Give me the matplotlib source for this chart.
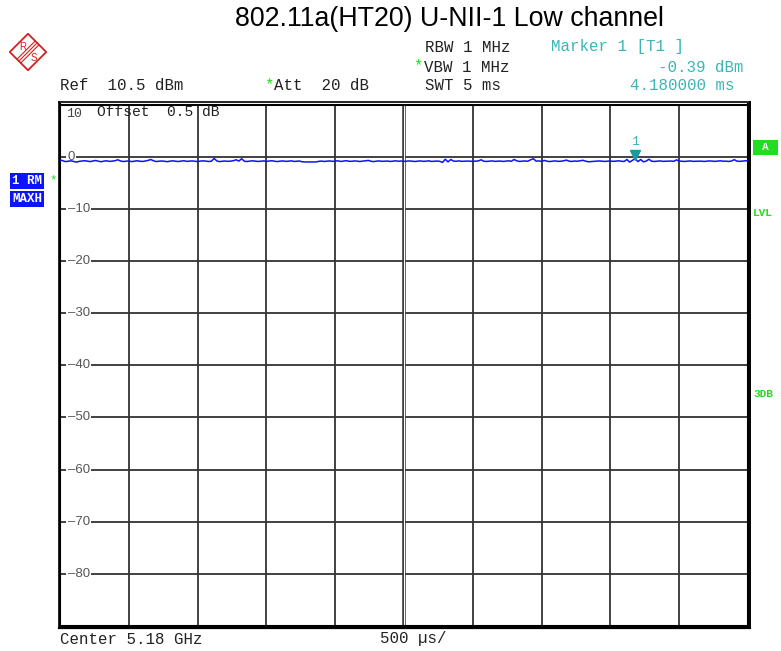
import numpy as np
import matplotlib.pyplot as plt
from matplotlib.patches import Polygon, Rectangle
from matplotlib.lines import Line2D
from matplotlib.transforms import offset_copy

# 扫描参数 (零跨度, 5 ms)
sweep_ms = 5.0
ref_top = 10
ref_bottom = -90
marker_time_ms = 4.18
marker_level_dbm = -0.39

# 迹线电平 (dBm), 每 20 us 一点
trace_dbm = [
    -0.62, -0.78, -0.95, -0.88, -0.80, -0.92, -1.05, -0.90, -0.84, -0.78,
    -0.86, -0.95, -0.82, -0.74, -0.88, -0.97, -0.85, -0.80, -0.91, -0.86,
    -0.78, -0.60, -0.84, -0.93, -0.88, -0.82, -0.95, -0.86, -0.79, -0.88,
    -0.92, -0.84, -0.72, -0.55, -0.80, -0.94, -0.87, -0.83, -0.90, -0.96,
    -0.86, -0.80, -0.88, -0.93, -0.85, -0.78, -0.90, -0.87, -0.82, -0.89,
    -0.94, -0.85, -0.80, -0.86, -0.92, -0.88, -0.35, -0.82, -0.95, -0.88,
    -0.84, -0.90, -0.86, -0.78, -0.60, -0.85, -0.40, -0.88, -0.93, -0.85,
    -0.80, -0.87, -0.92, -0.86, -0.82, -0.90, -0.85, -0.78, -0.88, -0.94,
    -0.86, -0.82, -0.90, -0.87, -0.80, -0.92, -0.88, -0.84, -0.98, -1.02,
    -1.02, -1.00, -1.01, -1.02, -0.90, -0.85, -0.92, -0.88, -0.82, -0.90,
    -0.86, -0.80, -0.92, -0.84, -0.78, -0.88, -0.90, -0.82, -0.86, -0.93,
    -0.85, -0.80, -0.72, -0.88, -0.95, -0.86, -0.82, -0.90, -0.88, -0.84,
    -0.92, -0.86, -0.80, -0.88, -0.84, -0.90, -0.87, -0.82, -0.88, -0.93,
    -0.86, -0.82, -0.90, -0.87, -0.80, -0.92, -0.88, -0.84, -0.90, -1.10,
    -0.50, -1.00, -0.55, -0.85, -0.88, -0.82, -0.90, -0.86, -0.84, -0.88,
    -0.90, -0.86, -0.82, -0.60, -0.88, -0.92, -0.86, -0.82, -0.90, -0.88,
    -0.84, -0.92, -0.86, -0.80, -0.88, -0.55, -0.80, -0.92, -0.86, -0.84,
    -0.88, -0.60, -0.40, -0.86, -0.82, -0.90, -0.72, -0.88, -0.94, -0.86,
    -0.82, -0.90, -0.88, -0.80, -0.66, -0.86, -0.92, -0.84, -0.88, -0.80,
    -0.70, -0.86, -0.98, -0.94, -0.90, -0.86, -0.82, -0.88, -0.92, -0.86,
    -0.84, -0.90, -0.86, -0.80, -0.88, -0.92, -0.55, -1.05, -0.70, -0.39,
    -0.95, -0.55, -1.00, -0.85, -0.50, -0.88, -0.92, -0.86, -0.82, -0.90,
    -0.88, -0.86, -0.84, -0.90, -0.62, -0.85, -0.88, -0.92, -0.86, -0.82,
    -0.90, -0.88, -0.84, -0.86, -0.92, -0.88, -0.82, -0.86, -0.90, -0.84,
    -0.80, -0.88, -0.86, -0.92, -0.84, -0.58, -0.86, -0.90, -0.84, -0.80,
    -0.78,
]
time_ms = np.linspace(0, sweep_ms, len(trace_dbm))

level_labels = ['0', '-10', '-20', '-30', '-40', '-50', '-60', '-70', '-80']
level_values = [0, -10, -20, -30, -40, -50, -60, -70, -80]

W, H = 781, 651
MONO = 'Liberation Mono'
SANS = 'Liberation Sans'
CYAN = '#3db5b5'
GREEN = '#22dd22'
BLUE = '#1010ff'
GRID = '#333333'


def fx(px):
    return px / W


def fy(py):
    return 1 - py / H


fig = plt.figure(figsize=(W / 100, H / 100), dpi=100)

# 标题
fig.text(fx(449), fy(19), '802.11a(HT20) U-NII-1 Low channel', family=SANS,
         fontsize=19.3, ha='center', va='center', color='black')

# 仪器设置
def info(x, y, s, color='#222222', ha='left'):
    fig.text(fx(x), fy(y), s, family=MONO, fontsize=11.3, ha=ha, va='center', color=color)


info(60, 86, 'Ref  10.5 dBm')
info(264, 85, '*', color=GREEN)
info(274, 86, 'Att  20 dB')
info(425, 47, 'RBW 1 MHz')
info(413, 66, '*', color=GREEN)
info(424, 67, 'VBW 1 MHz')
info(425, 86, 'SWT 5 ms')
info(551, 47, 'Marker 1 [T1 ]', color=CYAN)
info(744, 67, '-0.39 dBm', color=CYAN, ha='right')
info(734, 86, '4.180000 ms', color=CYAN, ha='right')
info(60, 639, 'Center 5.18 GHz')
info(380, 639, '500 µs/')

# 左右状态标签
fig.text(fx(12), fy(181), '1 RM', family=MONO, fontsize=9, fontweight='bold', color='white',
         va='center', ha='left',
         bbox=dict(boxstyle='square,pad=0.15', fc='#0a14ff', ec='none'))
fig.text(fx(12), fy(199), 'MAXH', family=MONO, fontsize=9, fontweight='bold', color='white',
         va='center', ha='left',
         bbox=dict(boxstyle='square,pad=0.15', fc='#0a14ff', ec='none'))
fig.text(fx(49), fy(180), '*', family=MONO, fontsize=9, color=GREEN, va='center')
fig.patches.append(Rectangle((fx(753), fy(155)), 25 / W, 15 / H, transform=fig.transFigure,
                             fc=GREEN, ec='none'))
fig.text(fx(765.5), fy(147.5), 'A', family=MONO, fontsize=8, fontweight='bold', color='white',
         ha='center', va='center')
fig.text(fx(753), fy(213), 'LVL', family=MONO, fontsize=8, fontweight='bold', color=GREEN, va='center')
fig.text(fx(753), fy(394), '3DB', family=MONO, fontsize=8, fontweight='bold', color=GREEN, va='center')

# R&S 标志
logo = fig.add_axes([fx(9), fy(71), 38 / W, 38 / H])
logo.set_xlim(0, 1)
logo.set_ylim(0, 1)
logo.axis('off')
red = '#d42020'
logo.add_patch(Polygon([(0.5, 0.02), (0.98, 0.5), (0.5, 0.98), (0.02, 0.5)],
                       closed=True, fc='white', ec=red, lw=1.3))
for d in (-0.05, 0.0, 0.05):
    logo.plot([0.27 + d, 0.73 + d], [0.27 - d, 0.73 - d], color=red, lw=0.8)
logo.text(0.36, 0.64, 'R', color=red, fontsize=7, family=SANS, ha='center', va='center')
logo.text(0.64, 0.35, 'S', color=red, fontsize=7, family=SANS, ha='center', va='center')

# 栅格区
ax = fig.add_axes([fx(60), fy(626), 688 / W, (626 - 104.5) / H])
ax.set_xlim(0, sweep_ms)
ax.set_ylim(ref_bottom, ref_top)
ax.set_xticks([])
ax.set_yticks([])
for sp in ax.spines.values():
    sp.set_linewidth(1.5)
    sp.set_color('black')

for k in range(1, 10):
    ax.axvline(k * sweep_ms / 10, color=GRID, lw=1.3, zorder=1)
for v in level_values:
    ax.axhline(v, color=GRID, lw=1.3, zorder=1)
# 中心双线
ax.axvline(2.5 - 0.009, color=GRID, lw=1.1, zorder=1)
ax.axvline(2.5 + 0.009, color=GRID, lw=1.1, zorder=1)
ax.axvline(2.5, color='white', lw=0.8, zorder=1.1)

for lab, v in zip(level_labels, level_values):
    ax.text(0.055, v, lab.replace('-', '\u2013'), family=SANS, fontsize=9.5, color='#555555',
            ha='left', va='center', zorder=3,
            bbox=dict(boxstyle='square,pad=0.1', fc='white', ec='none'))
ax.text(0.045, 8.1, '10', family=MONO, fontsize=9.5, color='#444444', ha='left', va='center', zorder=3)
ax.text(0.27, 8.5, 'Offset  0.5 dB', family=MONO, fontsize=10.5, color='#222222',
        ha='left', va='center', zorder=3)

ax.plot(time_ms, trace_dbm, color=BLUE, lw=1.1, zorder=4)

# 标记 1
mk = offset_copy(ax.transData, fig=fig, y=4, units='dots')
ax.plot(marker_time_ms, marker_level_dbm, marker='v', ms=7, color='#1a9a9a',
        mec='#1a9a9a', transform=mk, zorder=5)
ax.text(marker_time_ms, 2.9, '1', family=MONO, fontsize=9.5, color=CYAN,
        ha='center', va='center', zorder=5)

# 外框双线
for x0, x1, y0, y1, lw in [(58.5, 58.5, 101.5, 627.5, 1.2), (750, 750, 101.5, 627.5, 1.4),
                           (58.5, 750, 101.5, 101.5, 1.2), (58.5, 750, 627.5, 627.5, 1.6)]:
    fig.lines.append(Line2D([fx(x0), fx(x1)], [fy(y0), fy(y1)], transform=fig.transFigure,
                            color='black', lw=lw))

fig.savefig('out.png', dpi=100)
